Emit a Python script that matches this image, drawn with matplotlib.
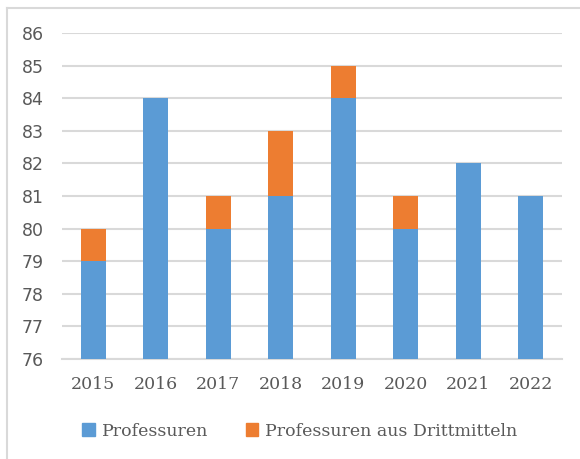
import matplotlib
matplotlib.use("Agg")
import matplotlib.pyplot as plt
from matplotlib.patches import Patch
from matplotlib.lines import Line2D

years = ["2015", "2016", "2017", "2018", "2019", "2020", "2021", "2022"]
professuren = [79, 84, 80, 81, 84, 80, 82, 81]
drittmittel = [1, 0, 1, 2, 1, 1, 0, 0]

BLUE = "#5B9BD5"
ORANGE = "#ED7D31"
TXT = "#595959"
GRID = "#D9D9D9"

fig = plt.figure(figsize=(5.8, 4.59), dpi=100)
ax = fig.add_axes([62 / 580, 1 - 359 / 459, 500 / 580, 326 / 459])

x = range(len(years))
base = 76
ax.bar(x, [p - base for p in professuren], bottom=base, width=0.4, color=BLUE, zorder=3)
ax.bar(x, drittmittel, bottom=professuren, width=0.4, color=ORANGE, zorder=3)

ax.set_ylim(76, 86)
ax.set_xlim(-0.5, len(years) - 0.5)
ax.set_yticks(range(76, 87))
ax.set_xticks(list(x))
ax.set_xticklabels(years, family="DejaVu Serif", fontsize=12.5, color=TXT)
ax.tick_params(axis="y", labelsize=12.5, labelcolor=TXT, length=0, pad=13)
ax.tick_params(axis="x", length=0, pad=12)
ax.grid(axis="y", color=GRID, linewidth=1.5, zorder=0)
for s in ["top", "right", "left"]:
    ax.spines[s].set_visible(False)
ax.spines["bottom"].set_color(GRID)
ax.spines["bottom"].set_linewidth(1.5)

handles = [Patch(color=BLUE, label="Professuren"),
           Patch(color=ORANGE, label="Professuren aus Drittmitteln")]
fig.legend(handles=handles, loc="center", bbox_to_anchor=(300 / 580, 1 - 431 / 459),
           ncol=2, frameon=False, handlelength=0.7, handleheight=0.7, handletextpad=0.4,
           columnspacing=2.2, prop={"family": "DejaVu Serif", "size": 12.5},
           labelcolor=TXT)

# outer chart frame (left and top only visible)
fig.add_artist(Line2D([7 / 580, 7 / 580], [0, 1 - 8 / 459], transform=fig.transFigure,
                      color=GRID, linewidth=1.5))
fig.add_artist(Line2D([7 / 580, 1], [1 - 8 / 459, 1 - 8 / 459], transform=fig.transFigure,
                      color=GRID, linewidth=1.5))

fig.savefig("out.png", dpi=100)
